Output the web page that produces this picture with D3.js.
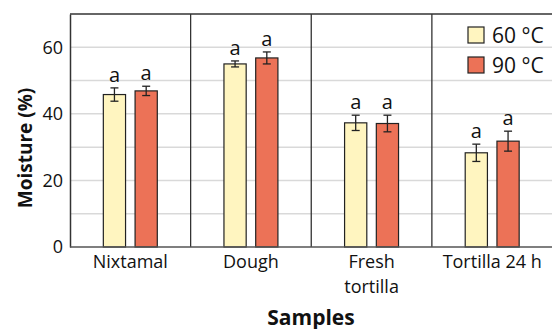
<!DOCTYPE html>
<html>
<head>
<meta charset="utf-8">
<script src="https://cdn.jsdelivr.net/npm/d3@7"></script>
<style>
  html, body { margin: 0; padding: 0; background: #fff; }
  svg { display: block; font-family: "Open Sans", sans-serif; }
</style>
</head>
<body>
<svg id="chart" width="552" height="329"></svg>
<script>
// Moisture content of samples at two processing temperatures
const categories = ["Nixtamal", "Dough", "Fresh\ntortilla", "Tortilla 24 h"];
const series = ["60 °C", "90 °C"];
const values60 = [45.8, 55.0, 37.3, 28.3];
const values90 = [46.9, 56.8, 37.1, 31.8];
const errors60 = [2.0, 0.9, 2.3, 2.6];
const errors90 = [1.4, 1.8, 2.5, 3.0];
const letters60 = ["a", "a", "a", "a"];
const letters90 = ["a", "a", "a", "a"];
const yTicks = [0, 20, 40, 60];
const gridValues = [10, 20, 30, 40, 50, 60];

const colors = { "60 °C": "#fff5c0", "90 °C": "#ec7257" };

const svg = d3.select("#chart");
const margin = { top: 14, right: 0, bottom: 82, left: 70 };
const W = 552, H = 329;
const plotBottom = 247;

const x = d3.scaleBand().domain(categories).range([margin.left, W + 0.5]).padding(0);
const xSub = d3.scaleBand().domain(series).range([0, x.bandwidth()]).paddingInner(0.3).paddingOuter(1.05);
const y = d3.scaleLinear().domain([0, 70]).range([plotBottom, margin.top]);

// gridlines
svg.append("g").selectAll("line").data(gridValues).join("line")
  .attr("x1", margin.left).attr("x2", W)
  .attr("y1", d => y(d)).attr("y2", d => y(d))
  .attr("stroke", "#d9d9d9").attr("stroke-width", 1.5);

// category separators
svg.append("g").selectAll("line").data(categories.slice(1)).join("line")
  .attr("x1", d => x(d)).attr("x2", d => x(d))
  .attr("y1", y(0)).attr("y2", y(70))
  .attr("stroke", "#333").attr("stroke-width", 1.3);

// top border
svg.append("line")
  .attr("x1", margin.left).attr("x2", W)
  .attr("y1", y(70)).attr("y2", y(70))
  .attr("stroke", "#333").attr("stroke-width", 1.3);

const rows = categories.map((c, i) => ({
  cat: c,
  items: [
    { s: series[0], v: values60[i], e: errors60[i], l: letters60[i] },
    { s: series[1], v: values90[i], e: errors90[i], l: letters90[i] }
  ]
}));

const groups = svg.append("g").selectAll("g").data(rows).join("g")
  .attr("transform", d => `translate(${x(d.cat)},0)`);

const items = groups.selectAll("g").data(d => d.items).join("g");

items.append("rect")
  .attr("x", d => xSub(d.s))
  .attr("width", xSub.bandwidth())
  .attr("y", d => y(d.v))
  .attr("height", d => y(0) - y(d.v))
  .attr("fill", d => colors[d.s])
  .attr("stroke", "#222").attr("stroke-width", 1.2);

// error bars
const cx = d => xSub(d.s) + xSub.bandwidth() / 2;
items.append("line")
  .attr("x1", cx).attr("x2", cx)
  .attr("y1", d => y(d.v + d.e)).attr("y2", d => y(d.v - d.e))
  .attr("stroke", "#222").attr("stroke-width", 1.3);
items.append("line")
  .attr("x1", d => cx(d) - 4).attr("x2", d => cx(d) + 4)
  .attr("y1", d => y(d.v + d.e)).attr("y2", d => y(d.v + d.e))
  .attr("stroke", "#222").attr("stroke-width", 1.3);
items.append("line")
  .attr("x1", d => cx(d) - 4).attr("x2", d => cx(d) + 4)
  .attr("y1", d => y(d.v - d.e)).attr("y2", d => y(d.v - d.e))
  .attr("stroke", "#222").attr("stroke-width", 1.3);

// significance letters
items.append("text")
  .attr("x", cx)
  .attr("y", d => y(d.v + d.e) - 6)
  .attr("text-anchor", "middle")
  .attr("font-size", 20)
  .attr("fill", "#111")
  .text(d => d.l);

// y axis
const yAxis = svg.append("g")
  .attr("transform", `translate(${margin.left},0)`)
  .call(d3.axisLeft(y).tickValues(yTicks).tickSize(0).tickPadding(7));
yAxis.select(".domain").attr("stroke", "#333").attr("stroke-width", 1.5);
yAxis.selectAll("text").attr("font-size", 18).attr("fill", "#111")
  .attr("font-family", "Open Sans, sans-serif");

// x axis baseline
svg.append("line")
  .attr("x1", margin.left).attr("x2", W)
  .attr("y1", y(0)).attr("y2", y(0))
  .attr("stroke", "#555").attr("stroke-width", 1.5);

// x category labels
const xl = svg.append("g").selectAll("text").data(categories).join("text")
  .attr("x", d => x(d) + x.bandwidth() / 2)
  .attr("y", 268)
  .attr("text-anchor", "middle")
  .attr("font-size", 18)
  .attr("fill", "#111");
xl.selectAll("tspan").data(d => d.split("\n")).join("tspan")
  .attr("x", function () { return d3.select(this.parentNode).attr("x"); })
  .attr("dy", (d, i) => i === 0 ? 0 : 25)
  .text(d => d);

// axis titles
svg.append("text")
  .attr("x", (margin.left + W) / 2)
  .attr("y", 325)
  .attr("text-anchor", "middle")
  .attr("font-size", 21).attr("font-weight", "bold").attr("fill", "#111")
  .text("Samples");

svg.append("text")
  .attr("transform", `translate(32,148) rotate(-90)`)
  .attr("text-anchor", "middle")
  .attr("font-size", 19).attr("font-weight", "bold").attr("fill", "#111")
  .text("Moisture (%)");

// legend
const legend = svg.append("g").selectAll("g").data(series).join("g")
  .attr("transform", (d, i) => `translate(468,${27 + i * 30})`);
legend.append("rect")
  .attr("width", 16).attr("height", 16)
  .attr("fill", d => colors[d])
  .attr("stroke", "#222").attr("stroke-width", 1.2);
legend.append("text")
  .attr("x", 24).attr("y", 16)
  .attr("font-size", 21).attr("fill", "#111")
  .text(d => d);
</script>
</body>
</html>
